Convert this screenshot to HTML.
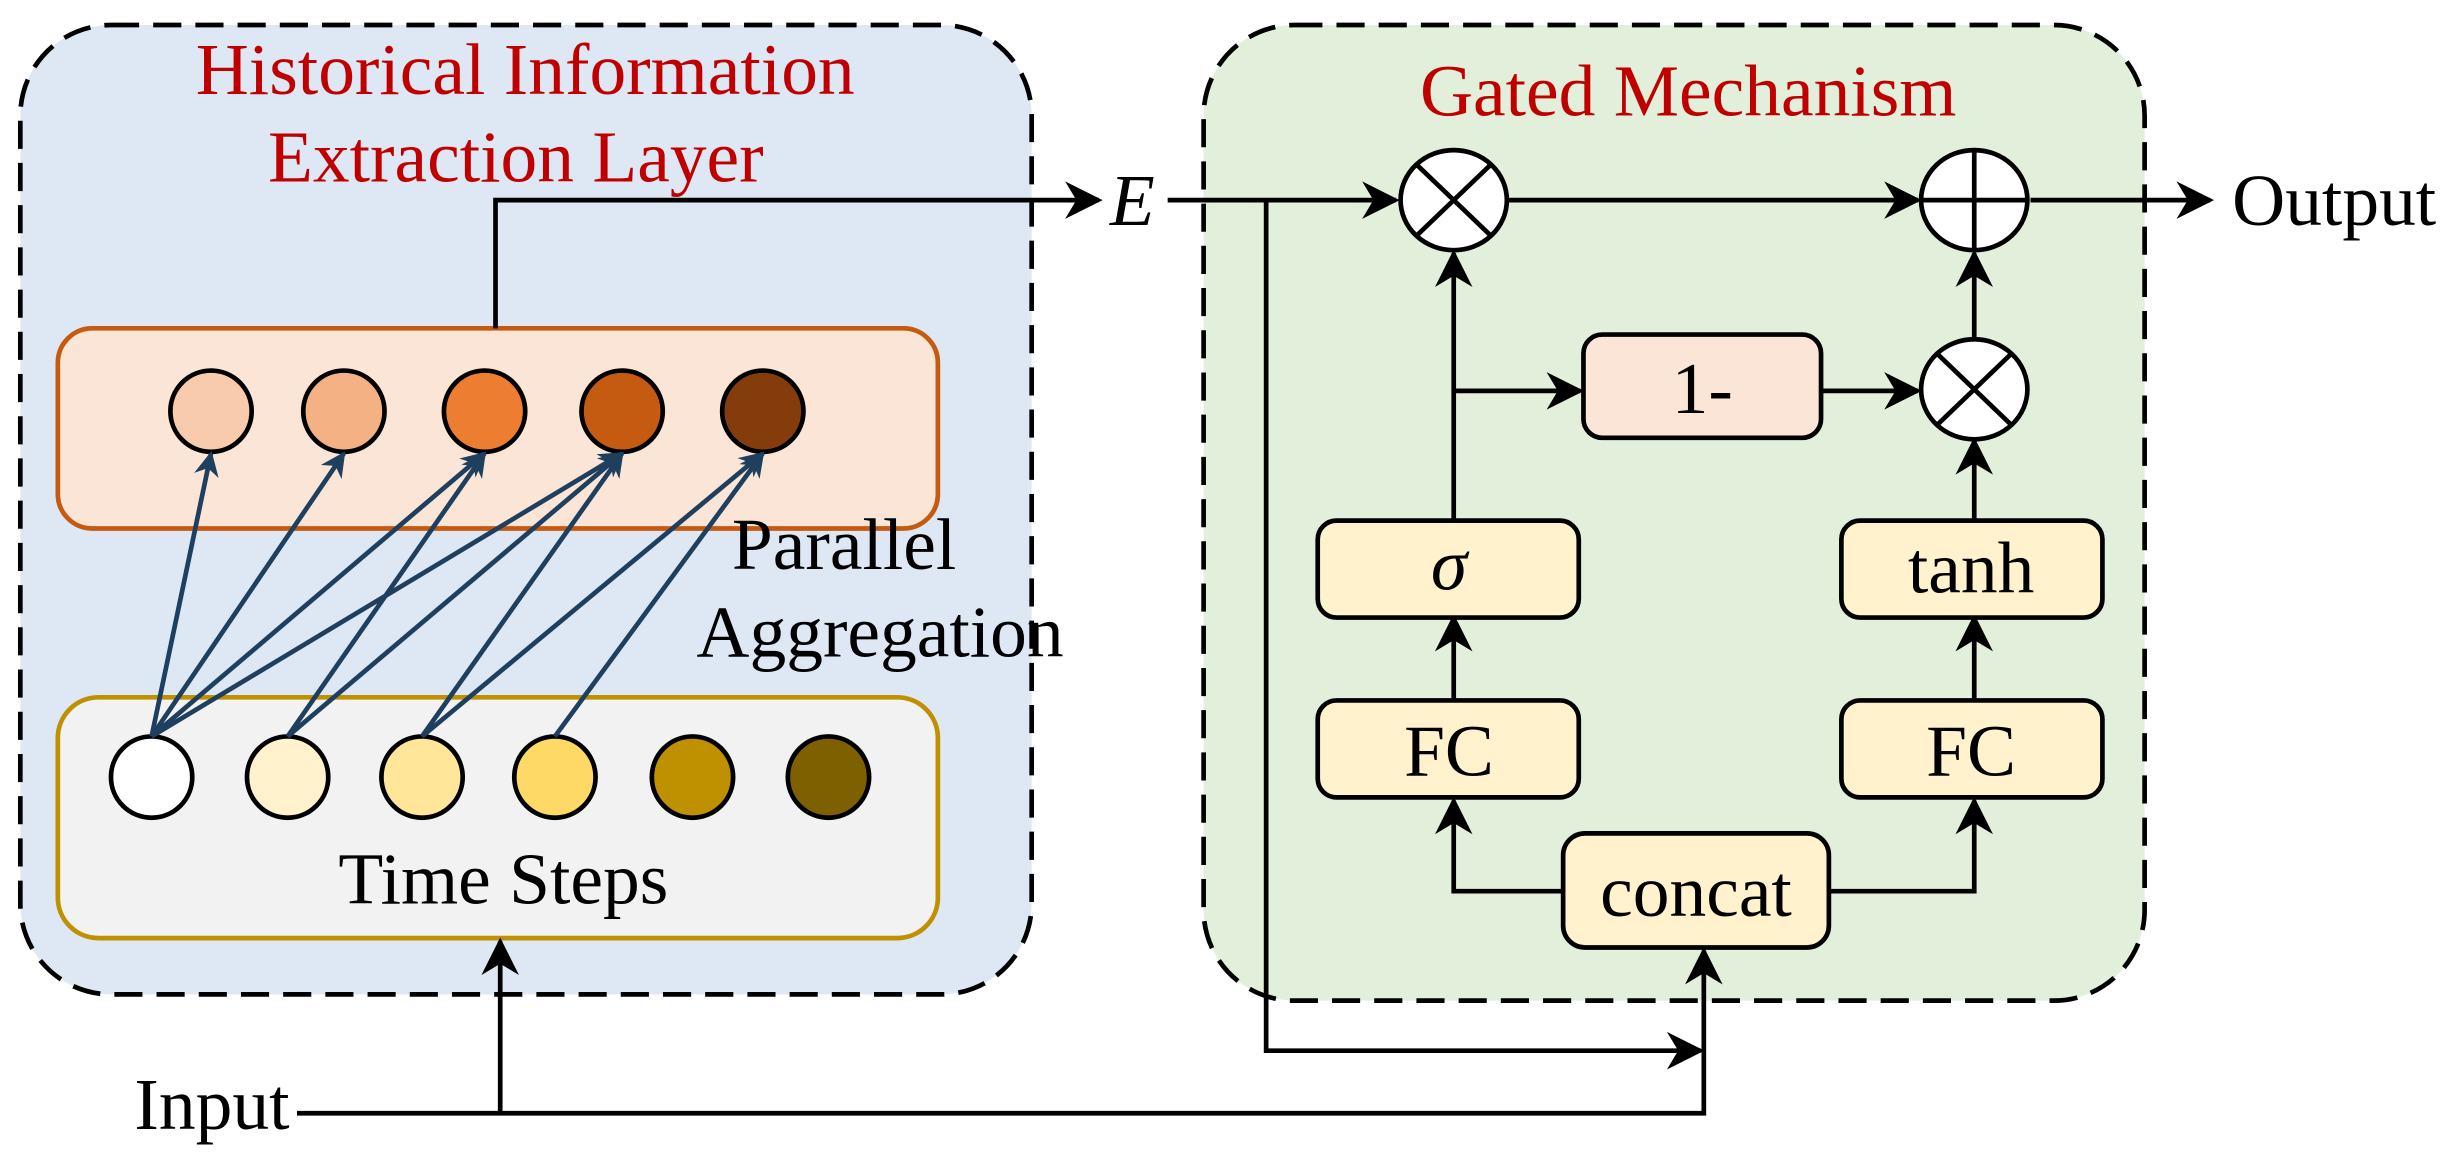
<!DOCTYPE html>
<html><head><style>html,body{margin:0;padding:0;background:#fff}svg{display:block}</style></head><body>
<svg width="2451" height="1157" viewBox="0 0 1568 740" preserveAspectRatio="none" xmlns="http://www.w3.org/2000/svg" font-family="'Liberation Serif', serif">
<defs>
<marker id="k" viewBox="0 0 10 10" refX="9" refY="5" markerWidth="26" markerHeight="24" orient="auto" markerUnits="userSpaceOnUse"><path d="M0,0 L10,5 L0,10 L3,5 z" fill="#000"/></marker>
<marker id="b" viewBox="0 0 10 10" refX="9" refY="5" markerWidth="18" markerHeight="16" orient="auto" markerUnits="userSpaceOnUse"><path d="M0,0 L10,5 L0,10 L3,5 z" fill="#1f3f5e"/></marker>
</defs>
<rect x="13" y="16" width="647" height="620" rx="58" fill="#dde8f4" stroke="#000" stroke-width="3" stroke-dasharray="18,9"/>
<rect x="770" y="16" width="602" height="624" rx="58" fill="#e2efda" stroke="#000" stroke-width="3" stroke-dasharray="18,9"/>
<g fill="#c00000" font-size="47" text-anchor="middle">
<text x="336" y="60">Historical Information</text>
<text x="330" y="116">Extraction Layer</text>
<text x="1080" y="74">Gated Mechanism</text>
</g>
<rect x="37" y="210" width="563" height="128" rx="22" fill="#fbe5d6" stroke="#c55a11" stroke-width="3"/>
<rect x="37" y="446" width="563" height="154" rx="26" fill="#f2f2f2" stroke="#bf9000" stroke-width="3"/>
<g stroke="#000" stroke-width="3">
<circle cx="135" cy="263" r="26" fill="#f8cbad"/>
<circle cx="220" cy="263" r="26" fill="#f4b183"/>
<circle cx="310" cy="263" r="26" fill="#ed7d31"/>
<circle cx="398" cy="263" r="26" fill="#c55a11"/>
<circle cx="488" cy="263" r="26" fill="#843c0c"/>
<circle cx="97" cy="497" r="26" fill="#fff"/>
<circle cx="184" cy="497" r="26" fill="#fff2cc"/>
<circle cx="270" cy="497" r="26" fill="#ffe699"/>
<circle cx="355" cy="497" r="26" fill="#ffd966"/>
<circle cx="443" cy="497" r="26" fill="#bf9000"/>
<circle cx="530" cy="497" r="26" fill="#7f6000"/>
</g>
<g stroke="#1f3f5e" stroke-width="3" marker-end="url(#b)">
<line x1="97" y1="471" x2="135" y2="290"/>
<line x1="97" y1="471" x2="220" y2="290"/>
<line x1="97" y1="471" x2="310" y2="290"/>
<line x1="97" y1="471" x2="398" y2="290"/>
<line x1="184" y1="471" x2="310" y2="290"/>
<line x1="184" y1="471" x2="398" y2="290"/>
<line x1="270" y1="471" x2="398" y2="290"/>
<line x1="270" y1="471" x2="488" y2="290"/>
<line x1="355" y1="471" x2="488" y2="290"/>
</g>
<g font-size="47" fill="#000">
<text x="322" y="578" text-anchor="middle">Time Steps</text>
<text x="540" y="364" text-anchor="middle">Parallel</text>
<text x="563" y="420" text-anchor="middle">Aggregation</text>
<text x="86" y="722">Input</text>
<text x="1428" y="144">Output</text>
<text x="710" y="144" font-style="italic">E</text>
</g>
<g stroke="#000" stroke-width="3" fill="none">
<polyline points="317,210 317,128 703,128" marker-end="url(#k)"/>
<line x1="747" y1="128" x2="893" y2="128" marker-end="url(#k)"/>
<line x1="965" y1="128" x2="1227" y2="128" marker-end="url(#k)"/>
<line x1="1299" y1="128" x2="1414" y2="128" marker-end="url(#k)"/>
<polyline points="810,128 810,672 1088,672" marker-end="url(#k)"/>
<polyline points="190,712 1090,712 1090,608" marker-end="url(#k)"/>
<line x1="320" y1="712" x2="320" y2="602" marker-end="url(#k)"/>
<line x1="930" y1="333" x2="930" y2="162" marker-end="url(#k)"/>
<line x1="930" y1="250" x2="1011" y2="250" marker-end="url(#k)"/>
<line x1="1166" y1="250" x2="1227" y2="250" marker-end="url(#k)"/>
<line x1="1263" y1="333" x2="1263" y2="282" marker-end="url(#k)"/>
<line x1="1263" y1="216" x2="1263" y2="162" marker-end="url(#k)"/>
<line x1="930" y1="447" x2="930" y2="395" marker-end="url(#k)"/>
<line x1="1263" y1="447" x2="1263" y2="395" marker-end="url(#k)"/>
<polyline points="1000,570 930,570 930,512" marker-end="url(#k)"/>
<polyline points="1170,570 1263,570 1263,512" marker-end="url(#k)"/>
</g>
<g stroke="#000" stroke-width="3">
<ellipse cx="930" cy="128" rx="34" ry="32" fill="#fff"/>
<line x1="906" y1="105" x2="954" y2="151"/><line x1="954" y1="105" x2="906" y2="151"/>
<ellipse cx="1263" cy="128" rx="34" ry="32" fill="#fff"/>
<line x1="1263" y1="96" x2="1263" y2="160"/><line x1="1229" y1="128" x2="1297" y2="128"/>
<ellipse cx="1263" cy="249" rx="34" ry="32" fill="#fff"/>
<line x1="1239" y1="226" x2="1287" y2="272"/><line x1="1287" y1="226" x2="1239" y2="272"/>
<rect x="1013" y="214" width="152" height="66" rx="12" fill="#fbe5d6"/>
<rect x="843" y="333" width="167" height="62" rx="12" fill="#fff2cc"/>
<rect x="843" y="448" width="167" height="62" rx="12" fill="#fff2cc"/>
<rect x="1178" y="333" width="167" height="62" rx="12" fill="#fff2cc"/>
<rect x="1178" y="448" width="167" height="62" rx="12" fill="#fff2cc"/>
<rect x="1000" y="533" width="170" height="73" rx="14" fill="#fff2cc"/>
</g>
<g font-size="47" fill="#000" text-anchor="middle">
<text x="1089" y="264">1-</text>
<text x="927" y="377" font-style="italic">σ</text>
<text x="1261" y="379">tanh</text>
<text x="927" y="496">FC</text>
<text x="1261" y="496">FC</text>
<text x="1085" y="586">concat</text>
</g>
</svg>
</body></html>
